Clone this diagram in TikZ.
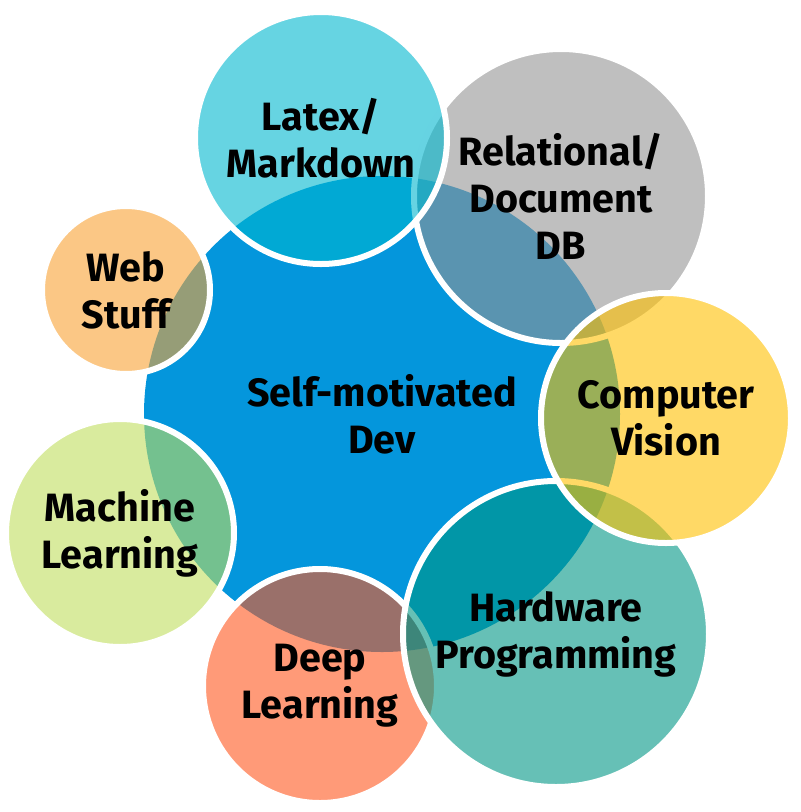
\documentclass[tikz,border=0pt]{standalone}
\usepackage{fontspec}
\setmainfont{Fira Sans}
\definecolor{cblue}{RGB}{4,150,220}
\definecolor{ccyan}{RGB}{0,183,207}
\definecolor{cgray}{RGB}{148,148,148}
\definecolor{corange}{RGB}{248,162,52}
\definecolor{cyellow}{RGB}{255,192,0}
\definecolor{cgreen}{RGB}{192,222,93}
\definecolor{csalmon}{RGB}{255,87,30}
\definecolor{cteal}{RGB}{0,150,133}
\tikzset{
  bubble/.style={circle, inner sep=0pt, outer sep=0pt, draw=white, line width=6pt,
     fill=#1, fill opacity=0.6, draw opacity=1},
  hub/.style={circle, inner sep=0pt, outer sep=0pt, fill=cblue},
  lbl/.style={align=center, font=\fontsize{39.5}{47}\selectfont\bfseries, text=black}
}
\begin{document}
\begin{tikzpicture}[x=1pt,y=-1pt]
\useasboundingbox (0,0) rectangle (801,812);
\node[hub, minimum size=476pt] (hubc) at (382,414) {};
\node[bubble=corange, minimum size=168pt] (web) at (126,290) {};
\node[bubble=cgreen, minimum size=228pt] (ml) at (120,533) {};
\node[bubble=csalmon, minimum size=234pt] (deep) at (320,686) {};
\node[bubble=cteal, minimum size=306pt] (hw) at (556,634) {};
\node[bubble=cgray, minimum size=294pt] (db) at (561,196) {};
\node[bubble=cyellow, minimum size=250pt] (cv) at (666,418) {};
\node[bubble=ccyan, minimum size=252pt] (tex) at (321,138) {};
\node[lbl] (thub) at (hubc.center) {Self-motivated\\Dev};
\node[lbl] (tweb) at (web.center) {Web\\Stuff};
\node[lbl] (tml) at (ml.center) {Machine\\Learning};
\node[lbl] (tdeep) at (deep.center) {Deep\\Learning};
\node[lbl] (thw) at (hw.center) {Hardware\\Programming};
\node[lbl] (tdb) at (db.center) {Relational/\\Document\\DB};
\node[lbl] (tcv) at (cv.center) {Computer\\Vision};
\node[lbl] (ttex) at (tex.center) {Latex/\\Markdown};
\end{tikzpicture}
\end{document}
